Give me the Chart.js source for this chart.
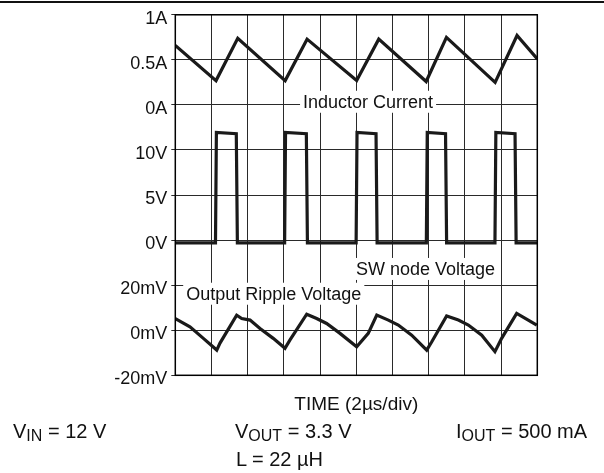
<!DOCTYPE html>
<html>

<head>
  <title>Switching Waveforms</title>
  <script src="https://cdn.jsdelivr.net/npm/chart.js@4/dist/chart.umd.min.js"></script>
  <style>
    body {
      margin: 0;
      padding: 0;
      background-color: #fff;
      font-family: "Liberation Sans", Arial, sans-serif;
    }

    #wrap {
      position: relative;
      width: 604px;
      height: 473px;
      overflow: hidden;
    }

    #rule {
      position: absolute;
      left: 0;
      top: 1px;
      width: 604px;
      height: 2px;
      background-color: #111;
    }

    canvas {
      position: absolute;
      left: 0;
      top: 0;
    }

    .cond {
      position: absolute;
      font-size: 20px;
      line-height: 20px;
      color: #111;
      white-space: nowrap;
    }

    .cond sub {
      font-size: 16px;
      vertical-align: -3px;
      line-height: 0;
    }
  </style>
</head>

<body>
  <div id="wrap">
    <canvas id="scope" width="604" height="473"></canvas>
    <div class="rule" id="rule"></div>
    <div class="cond" style="left:13px; top:421px;">V<sub>IN</sub> = 12 V</div>
    <div class="cond" style="left:235px; top:421px;">V<sub>OUT</sub> = 3.3 V</div>
    <div class="cond" style="left:456px; top:421px;">I<sub>OUT</sub> = 500 mA</div>
    <div class="cond" style="left:236px; top:449px;">L = 22 µH</div>
  </div>

  <script>
    // screen divisions, bottom (0) to top (8)
    const yTickLabels = ['-20mV', '0mV', '20mV', '0V', '5V', '10V', '0A', '0.5A', '1A'];

    // inductor current (A) vs time (us)
    const currentTime = [0, 2.25, 3.45, 6.07, 7.28, 10.02, 11.24, 13.86, 14.98, 17.67, 18.88, 20];
    const currentAmps = [0.66, 0.27, 0.74, 0.27, 0.73, 0.27, 0.73, 0.26, 0.75, 0.25, 0.77, 0.51];

    // switch node voltage (V) vs time (us)
    const swTime = [0, 2.22, 2.27, 3.37, 3.43, 6.04, 6.09, 7.24, 7.30, 9.99, 10.04, 11.09, 11.15,
      13.87, 13.92, 14.93, 14.99, 17.66, 17.71, 18.77, 18.83, 20];
    const swVolts = [-0.3, -0.3, 11.95, 11.8, -0.3, -0.3, 11.95, 11.8, -0.3, -0.3, 11.95, 11.8, -0.3,
      -0.3, 11.95, 11.8, -0.3, -0.3, 11.95, 11.8, -0.3, -0.3];

    // output ripple (mV) vs time (us)
    const rippleTime = [0, 0.81, 1.55, 2.29, 2.47, 3.39, 3.67, 4.13, 4.68, 5.41, 6.06, 6.33, 7.26, 7.81,
      8.36, 9.10, 10.02, 10.66, 11.13, 11.77, 12.32, 13.06, 13.89, 14.17, 14.99, 15.64, 16.19, 16.93,
      17.66, 18.03, 18.86, 19.50, 19.97];
    const rippleMilliVolts = [5.2, 1.5, -3.6, -8.8, -5.7, 6.7, 5.2, 4.5, 0.8, -3.6, -8.0, -4.4, 7.1, 5.2,
      3.0, -1.4, -7.3, -1.4, 6.7, 4.5, 2.3, -2.2, -8.8, -5.1, 6.3, 4.5, 2.3, -2.2,
      -9.5, -3.6, 7.5, 4.5, 2.3];

    // trace labels: text, time (us), level (divisions)
    const labelText = ['Inductor Current', 'SW node Voltage', 'Output Ripple Voltage'];
    const labelTime = [10.65, 13.82, 5.44];
    const labelLevel = [6.07, 2.36, 1.81];

    // map each channel onto its part of the screen
    const toDiv = {
      current: v => 6 + v / 0.5,
      sw: v => 3 + v / 5,
      ripple: v => 1 + v / 20,
    };

    const points = (times, values, fn) => times.map((t, i) => ({ x: t, y: fn(values[i]) }));

    const FONT = '"Liberation Sans", Arial, sans-serif';

    const traceStyle = {
      borderColor: '#1a1a1a',
      borderWidth: 3.2,
      pointRadius: 0,
      tension: 0,
      fill: false,
    };

    // white boxed labels drawn under the traces but over the grid
    const traceLabels = {
      id: 'traceLabels',
      beforeDatasetsDraw(chart) {
        const ctx = chart.ctx;
        const xs = chart.scales.x;
        const ys = chart.scales.y;
        ctx.save();
        ctx.font = '18px ' + FONT;
        ctx.textAlign = 'center';
        ctx.textBaseline = 'middle';
        labelText.forEach((txt, i) => {
          const px = xs.getPixelForValue(labelTime[i]);
          const py = ys.getPixelForValue(labelLevel[i]);
          const w = ctx.measureText(txt).width;
          ctx.fillStyle = '#fff';
          ctx.fillRect(px - w / 2 - 3, py - 11, w + 6, 22);
          ctx.fillStyle = '#111';
          ctx.fillText(txt, px, py + 1);
        });
        ctx.restore();
      },
      afterDraw(chart) {
        const a = chart.chartArea;
        const ctx = chart.ctx;
        ctx.save();
        ctx.strokeStyle = '#000';
        ctx.lineWidth = 1.5;
        ctx.strokeRect(a.left, a.top, a.right - a.left, a.bottom - a.top);
        ctx.restore();
      }
    };

    const scopeCtx = document.getElementById('scope').getContext('2d');

    const scopeChart = new Chart(scopeCtx, {
      type: 'line',
      data: {
        datasets: [
          Object.assign({ label: 'Inductor Current', data: points(currentTime, currentAmps, toDiv.current) }, traceStyle),
          Object.assign({ label: 'SW node Voltage', data: points(swTime, swVolts, toDiv.sw) }, traceStyle),
          Object.assign({ label: 'Output Ripple Voltage', data: points(rippleTime, rippleMilliVolts, toDiv.ripple) }, traceStyle),
        ],
      },
      options: {
        responsive: false,
        animation: false,
        layout: {
          padding: { left: 0, top: 14, right: 66.7, bottom: 53.7 },
        },
        plugins: {
          legend: { display: false },
          tooltip: { enabled: false },
        },
        scales: {
          x: {
            type: 'linear',
            min: 0,
            max: 20,
            ticks: { stepSize: 2, display: false },
            grid: { color: '#2a2a2a', lineWidth: 1, drawTicks: false },
            border: { display: false },
            title: {
              display: true,
              text: 'TIME (2µs/div)',
              color: '#111',
              font: { family: FONT, size: 19 },
              padding: { top: 0, bottom: 3 },
            },
            afterFit(axis) {
              axis.height = 44;
            },
          },
          y: {
            type: 'linear',
            min: 0,
            max: 8,
            ticks: {
              stepSize: 1,
              padding: 4,
              labelOffset: 4,
              color: '#111',
              font: { family: FONT, size: 18 },
              callback: v => yTickLabels[v],
            },
            grid: { color: '#2a2a2a', lineWidth: 1, tickLength: 4 },
            border: { display: false },
            afterFit(axis) {
              axis.width = 175.3;
            },
          },
        },
      },
      plugins: [traceLabels],
    });
  </script>
</body>

</html>
